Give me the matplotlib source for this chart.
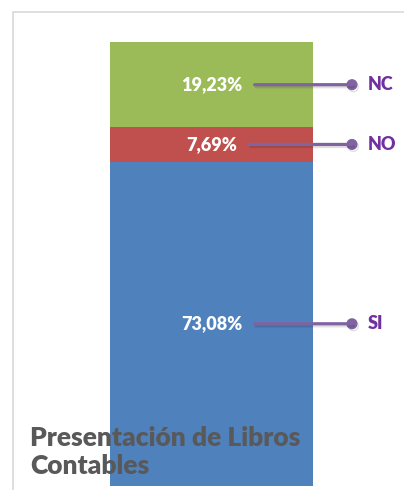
import matplotlib.pyplot as plt
import matplotlib.patheffects as pe
from matplotlib.patches import Rectangle

categories = ['SI', 'NO', 'NC']
values = [73.08, 7.69, 19.23]
value_labels = ['73,08%', '7,69%', '19,23%']
colors = ['#4F81BD', '#C0504D', '#9BBB59']
title = 'Presentación de Libros\nContables'

plt.rcParams['font.family'] = ['Lato', 'DejaVu Sans']

fig = plt.figure(figsize=(4.04, 4.90), dpi=100)

# chart area border (runs off the right and bottom edges)
fig.patches.append(Rectangle((13 / 404, -0.2), 1.2, 0.2 + 1 - 12 / 490,
                             transform=fig.transFigure, fill=False,
                             edgecolor='#d9d9d9', lw=1.2))

ax = fig.add_axes([110 / 404, 4 / 490, 203 / 404, 444 / 490])
ax.set_xlim(-0.5, 0.5)
ax.set_ylim(0, 100)
ax.axis('off')

shadow = [pe.SimpleLineShadow(offset=(1, -1.5), alpha=0.12), pe.Normal()]

bottom = 0
for cat, val, lab, col in zip(categories, values, value_labels, colors):
    ax.bar(0, val, width=1, bottom=bottom, color=col, edgecolor='none')
    yc = bottom + val / 2
    dot_x = 0.692
    ax.annotate(lab, xy=(dot_x, yc), xytext=(0, yc), ha='center', va='center',
                color='white', fontsize=13, fontweight='heavy',
                arrowprops=dict(arrowstyle='-', color='#8064A2', lw=2.3,
                                shrinkA=7, shrinkB=0, path_effects=shadow),
                annotation_clip=False)
    ax.plot([dot_x], [yc], 'o', color='#8064A2', ms=7, clip_on=False,
            path_effects=shadow)
    ax.text(0.771, yc, cat, ha='left', va='center', color='#7030A0',
            fontsize=13, fontweight='heavy', clip_on=False)
    bottom += val

fig.text(30 / 404, 1 - 452 / 490, title, ha='left', va='center',
         fontsize=19, fontweight='heavy', color='#595959',
         linespacing=1.2, zorder=5)

fig.savefig('out.png', dpi=100)
